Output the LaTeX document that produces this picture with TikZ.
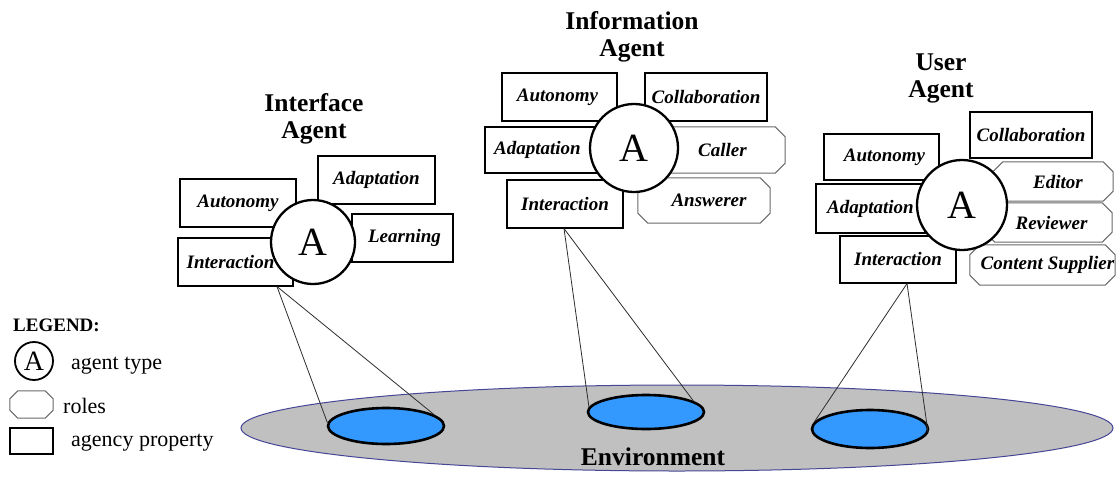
\documentclass[tikz,border=0pt]{standalone}
\usepackage{fontspec}
\setmainfont{Liberation Serif}
\usetikzlibrary{shapes.geometric}

\definecolor{envgray}{RGB}{192,192,192}
\definecolor{envedge}{RGB}{70,70,150}
\definecolor{spotblue}{RGB}{51,153,255}
\definecolor{rolegray}{RGB}{105,105,105}
\definecolor{linkgray}{RGB}{45,45,45}

\tikzset{
  prop/.style={draw=black, line width=1.1pt, fill=white, inner sep=0pt},
  rolenode/.style={inner sep=0pt},
  roleedge/.style={draw=rolegray, line width=1pt, line join=miter},
  ptext/.style={inner sep=0pt, font=\fontsize{19}{22}\selectfont\bfseries\itshape},
  agent/.style={circle, draw=black, line width=2.3pt, fill=white, inner sep=0pt,
                font=\fontsize{40}{40}\selectfont},
  head/.style={align=center, inner sep=0pt, font=\fontsize{25.5}{27}\selectfont\bfseries},
  env/.style={ellipse, draw=envedge, line width=1pt, fill=envgray, inner sep=0pt},
  spot/.style={ellipse, draw=black, line width=2.6pt, fill=spotblue, inner sep=0pt},
  link/.style={draw=linkgray, line width=0.8pt},
  legtext/.style={anchor=west, inner sep=0pt, font=\fontsize{22}{24}\selectfont},
}

% outline of a role: a rectangle with cut corners around a named node
\newcommand\roleoutline[2][10pt]{%
  \draw[roleedge]
    ([xshift=#1]#2.north west) -- ([xshift=-#1]#2.north east)
    -- ([yshift=-#1]#2.north east) -- ([yshift=#1]#2.south east)
    -- ([xshift=-#1]#2.south east) -- ([xshift=#1]#2.south west)
    -- ([yshift=#1]#2.south west) -- ([yshift=-#1]#2.north west) -- cycle;}

\begin{document}
\begin{tikzpicture}[x=1pt, y=-1pt]
\useasboundingbox (0,0) rectangle (1116,477);

% ---- environment -------------------------------------------------
\node[env, minimum width=872, minimum height=86] (env) at (677,428) {};
\node[inner sep=0pt, font=\fontsize{25.5}{27}\selectfont\bfseries] (envtext) at (653,457) {Environment};

\node[spot, minimum width=116, minimum height=36] (spotL) at (386,426) {};
\node[spot, minimum width=116, minimum height=34] (spotM) at (646,412) {};
\node[spot, minimum width=116, minimum height=38] (spotR) at (870,429) {};

% ---- interface agent ---------------------------------------------
\node[head] (IFhead) at (314,118.5) {Interface\\Agent};
\node[prop, minimum width=117, minimum height=48,
      label={[ptext]center:Adaptation}] (IFadapt) at (376.5,180) {};
\node[prop, minimum width=116, minimum height=48,
      label={[ptext]center:Autonomy}] (IFauto) at (238,203) {};
\node[prop, minimum width=101, minimum height=48,
      label={[ptext,xshift=2pt]center:Learning}] (IFlearn) at (402.5,238) {};
\node[prop, minimum width=115, minimum height=48,
      label={[ptext,xshift=-5pt]center:Interaction}] (IFinter) at (235.5,262) {};
\node[agent, minimum size=84] (IFA) at (313,242) {A};

% ---- information agent -------------------------------------------
\node[head] (INhead) at (632,36.5) {Information\\Agent};
\node[prop, minimum width=115, minimum height=48,
      label={[ptext,xshift=-2pt]center:Autonomy}] (INauto) at (559.5,97) {};
\node[prop, minimum width=122, minimum height=48,
      label={[ptext]center:Collaboration}] (INcoll) at (706,97) {};
\node[prop, minimum width=115, minimum height=46,
      label={[ptext,xshift=-5pt]center:Adaptation}] (INadapt) at (542.5,150) {};
\node[rolenode, minimum width=135, minimum height=46,
      label={[ptext,xshift=5pt]center:Caller}] (INcaller) at (717.5,150) {};
\roleoutline{INcaller}
\node[prop, minimum width=116, minimum height=48,
      label={[ptext]center:Interaction}] (INinter) at (565,204) {};
\node[rolenode, minimum width=132, minimum height=45,
      label={[ptext,xshift=5pt]center:Answerer}] (INansw) at (704,200.5) {};
\roleoutline{INansw}
\node[agent, minimum size=88] (INA) at (634,148) {A};

% ---- user agent ----------------------------------------------------
\node[head] (UShead) at (941,78.5) {User\\Agent};
\node[prop, minimum width=122, minimum height=46,
      label={[ptext]center:Collaboration}] (UScoll) at (1031,135) {};
\node[prop, minimum width=115, minimum height=46,
      label={[ptext,xshift=3pt]center:Autonomy}] (USauto) at (881.5,157) {};
\node[prop, minimum width=109, minimum height=49,
      label={[ptext]center:Adaptation}] (USadapt) at (870.5,208.5) {};
\node[rolenode, minimum width=120, minimum height=39,
      label={[ptext,xshift=5pt]center:Editor}] (USedit) at (1053,181.5) {};
\roleoutline{USedit}
\node[rolenode, minimum width=127, minimum height=39,
      label={[ptext,xshift=3pt]center:Reviewer}] (USrev) at (1048.5,222.5) {};
\roleoutline{USrev}
\node[rolenode, minimum width=145, minimum height=40,
      label={[ptext,xshift=5pt]center:Content Supplier}] (UScont) at (1042.5,265) {};
\roleoutline{UScont}
\node[prop, minimum width=116, minimum height=47,
      label={[ptext]center:Interaction}] (USinter) at (898,259.5) {};
\node[agent, minimum size=90] (USA) at (962,205) {A};

% ---- projections onto the environment ------------------------------
\coordinate (IFtip) at ([xshift=41.5pt]IFinter.south);
\coordinate (INtip) at ([xshift=-1pt]INinter.south);
\coordinate (UStip) at ([xshift=9pt]USinter.south);
\draw[link] (IFtip) -- (spotL.177);
\draw[link] (IFtip) -- (spotL.13);
\draw[link] (INtip) -- (spotM.175);
\draw[link] (INtip) -- (spotM.13);
\draw[link] (UStip) -- (spotR.173);
\draw[link] (UStip) -- (spotR.-4);

% ---- legend ----------------------------------------------------------
\node[anchor=west, inner sep=0pt, font=\fontsize{19}{20}\selectfont\bfseries] (legtitle) at (13,325) {LEGEND:};
\node[circle, draw=black, line width=1.8pt, minimum size=38, inner sep=0pt,
      font=\fontsize{28}{28}\selectfont] (legA) at (34,361) {A};
\node[legtext] (legAtext) at (71,366) {agent type};
\node[rolenode, minimum width=43, minimum height=27] (legrole) at (31.5,404.5) {};
\roleoutline[8pt]{legrole}
\node[legtext] (legroletext) at (63,406) {roles};
\node[draw=black, line width=1.1pt, minimum width=43, minimum height=26, inner sep=0pt] (legprop) at (31.5,441) {};
\node[legtext] (legproptext) at (71,443) {agency property};
\end{tikzpicture}
\end{document}
